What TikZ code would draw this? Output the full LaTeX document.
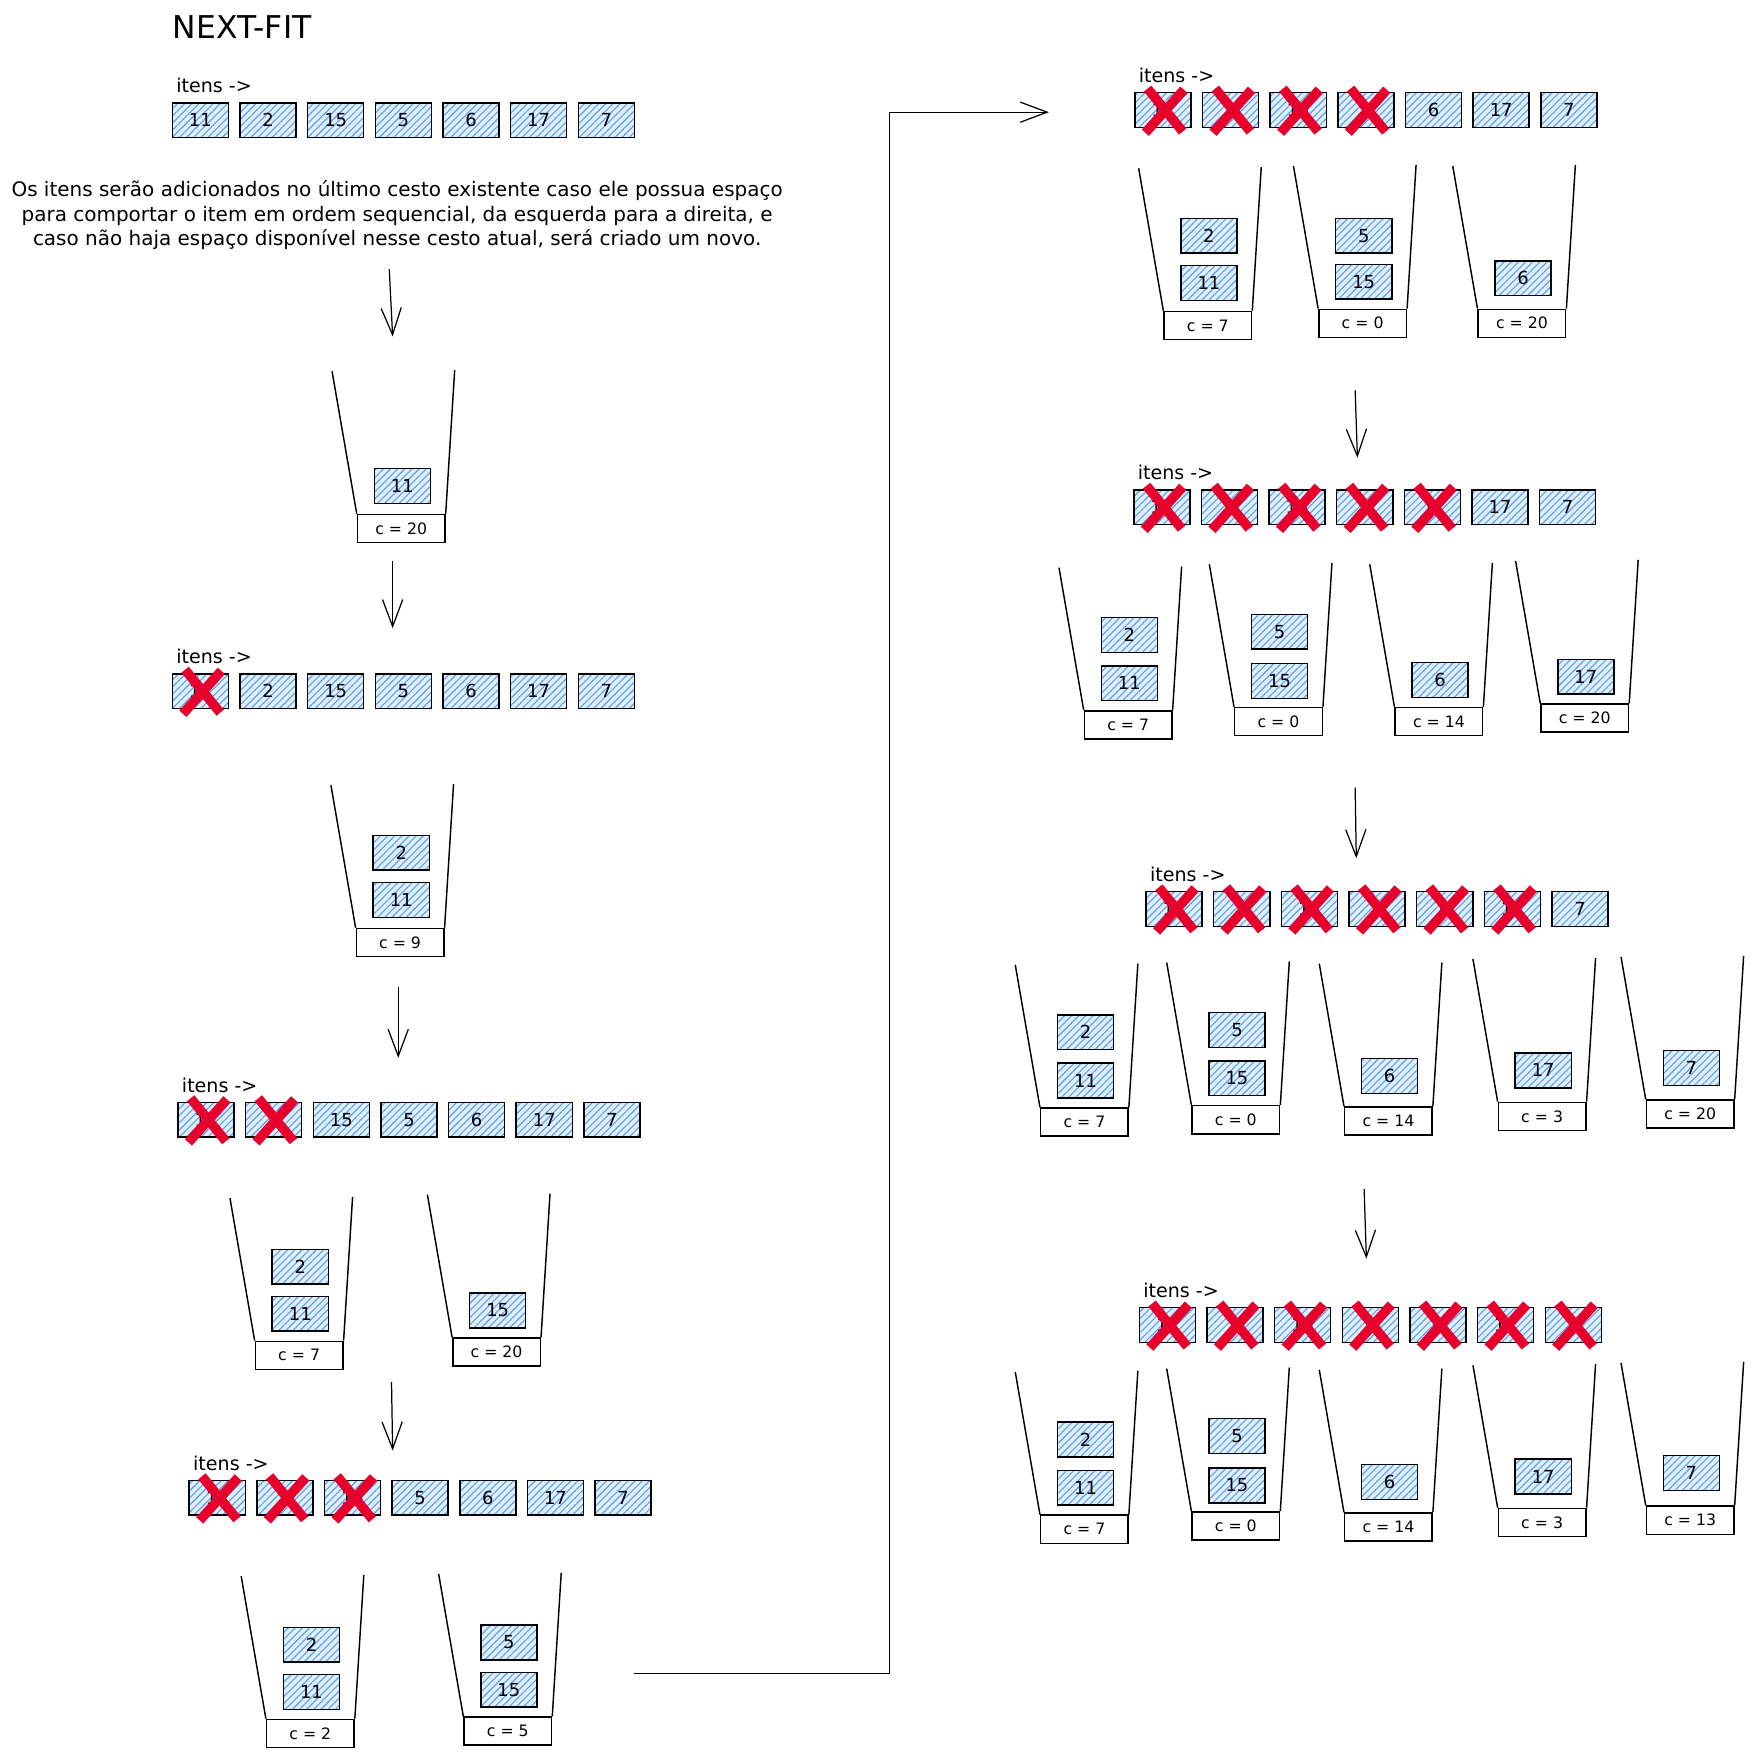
\documentclass[tikz,border=0pt]{standalone}
\usepackage{fontspec}
\setmainfont{DejaVu Sans}
\usetikzlibrary{arrows.meta,patterns.meta}

\definecolor{hatch}{RGB}{90,160,235}
\definecolor{crossred}{RGB}{232,0,45}

\tikzset{
  itembox/.style={draw, line width=1.3pt, minimum width=50pt, minimum height=31pt, inner sep=0pt,
    preaction={fill=hatch!18},
    preaction={pattern={Lines[angle=45,distance=4.5pt,line width=1pt]}, pattern color=hatch},
    font=\fontsize{16}{16}\selectfont},
  crossline/.style={crossred, line width=8.5pt},
  wall/.style={line width=1.3pt},
  basebox/.style={draw, line width=1.3pt, minimum width=78pt, minimum height=25pt, inner sep=0pt,
    font=\fontsize{14}{14}\selectfont},
  rowlabel/.style={anchor=south west, inner sep=0pt, font=\fontsize{17}{17}\selectfont},
  flow/.style={-{Straight Barb[length=24pt,width=18pt]}, line width=1.1pt},
}

% row of items: name, x, y (top of boxes), number already packed
\newcommand{\itensrow}[4]{%
  \node[rowlabel] (#1-label) at (#2+4,#3-8) {itens ->};
  \foreach \v [count=\i] in {11,2,15,5,6,17,7}{
    \node[itembox, anchor=north west] (#1-\i) at ({#2+(\i-1)*60.3},#3) {\v};
    \ifnum\i>#4 \else
      \draw[crossline] ([shift={(12,-3)}]#1-\i.north west) -- ([shift={(-8,3)}]#1-\i.south east);
      \draw[crossline] ([shift={(-7,-2)}]#1-\i.north east) -- ([shift={(10,4)}]#1-\i.south west);
    \fi
  }
}
% bin: name, x, y (top left of base), capacity left
\newcommand{\cesto}[4]{%
  \node[basebox, anchor=north west] (#1) at (#2,#3) {#4};
  \draw[wall] (#1.north west) -- ++(-22,-127);
  \draw[wall] (#1.north east) -- ++(8,-128);
}
% item inside a bin: name, bin, height above base, value
\newcommand{\cestoitem}[4]{%
  \node[itembox, anchor=north west] (#1) at ([shift={(15,-#3)}]#2.north west) {#4};
}

\begin{document}
\begin{tikzpicture}[x=1pt,y=-1pt]
\path[fill=white] (0,0) rectangle (1563,1568);

\node[anchor=west, inner sep=0pt, font=\fontsize{28}{28}\selectfont] (title) at (154,24) {NEXT-FIT};
\itensrow{p0}{153}{91}{0}
\node[align=center, font=\fontsize{17.8}{22}\selectfont] (intro) at (354,192)
  {Os itens serão adicionados no último cesto existente caso ele possua espaço\\
   para comportar o item em ordem sequencial, da esquerda para a direita, e\\
   caso não haja espaço disponível nesse cesto atual, será criado um novo.};

% left column
\coordinate (a1s) at (347,240);
\coordinate (a1e) at (350,300);
\draw[flow] (a1s) -- (a1e);

\cesto{b1}{318}{458}{c = 20}
\cestoitem{b1-11}{b1}{41}{11}

\coordinate (a2s) at (350,500);
\coordinate (a2e) at (350,560);
\draw[flow] (a2s) -- (a2e);

\itensrow{p1}{153}{600}{1}
\cesto{b2}{317}{827}{c = 9}
\cestoitem{b2-11}{b2}{41}{11}
\cestoitem{b2-2}{b2}{83}{2}

\coordinate (a3s) at (355,880);
\coordinate (a3e) at (355,943);
\draw[flow] (a3s) -- (a3e);

\itensrow{p2}{158}{982}{2}
\cesto{b3a}{227}{1195}{c = 7}
\cestoitem{b3a-11}{b3a}{40}{11}
\cestoitem{b3a-2}{b3a}{82}{2}
\cesto{b3b}{403}{1192}{c = 20}
\cestoitem{b3b-15}{b3b}{40}{15}

\coordinate (a4s) at (349,1232);
\coordinate (a4e) at (350,1293);
\draw[flow] (a4s) -- (a4e);

\itensrow{p3}{168}{1319}{3}
\cesto{b4a}{237}{1532}{c = 2}
\cestoitem{b4a-11}{b4a}{40}{11}
\cestoitem{b4a-2}{b4a}{82}{2}
\cesto{b4b}{413}{1530}{c = 5}
\cestoitem{b4b-15}{b4b}{40}{15}
\cestoitem{b4b-5}{b4b}{82}{5}

% jump to the right column
\coordinate (linkstart) at (565,1492);
\coordinate (linkend) at (935,100);
\draw[flow] (linkstart) -- (793,1492) |- (linkend);

% right column
\itensrow{r1}{1011}{82}{4}
\cesto{r1a}{1037}{277}{c = 7}
\cestoitem{r1a-11}{r1a}{41}{11}
\cestoitem{r1a-2}{r1a}{83}{2}
\cesto{r1b}{1175}{275}{c = 0}
\cestoitem{r1b-15}{r1b}{40}{15}
\cestoitem{r1b-5}{r1b}{81}{5}
\cesto{r1c}{1317}{275}{c = 20}
\cestoitem{r1c-6}{r1c}{43}{6}

\coordinate (ra1s) at (1208,348);
\coordinate (ra1e) at (1210,408);
\draw[flow] (ra1s) -- (ra1e);

\itensrow{r2}{1010}{436}{5}
\cesto{r2a}{966}{633}{c = 7}
\cestoitem{r2a-11}{r2a}{40}{11}
\cestoitem{r2a-2}{r2a}{83}{2}
\cesto{r2b}{1100}{630}{c = 0}
\cestoitem{r2b-15}{r2b}{39}{15}
\cestoitem{r2b-5}{r2b}{83}{5}
\cesto{r2c}{1243}{630}{c = 14}
\cestoitem{r2c-6}{r2c}{40}{6}
\cesto{r2d}{1373}{627}{c = 20}
\cestoitem{r2d-17}{r2d}{40}{17}

\coordinate (ra2s) at (1208,702);
\coordinate (ra2e) at (1209,765);
\draw[flow] (ra2s) -- (ra2e);

\itensrow{r3}{1021}{794}{6}
\cesto{r3a}{927}{987}{c = 7}
\cestoitem{r3a-11}{r3a}{40}{11}
\cestoitem{r3a-2}{r3a}{83}{2}
\cesto{r3b}{1062}{985}{c = 0}
\cestoitem{r3b-15}{r3b}{40}{15}
\cestoitem{r3b-5}{r3b}{83}{5}
\cesto{r3c}{1198}{986}{c = 14}
\cestoitem{r3c-6}{r3c}{43}{6}
\cesto{r3d}{1335}{982}{c = 3}
\cestoitem{r3d-17}{r3d}{44}{17}
\cesto{r3e}{1467}{980}{c = 20}
\cestoitem{r3e-7}{r3e}{44}{7}

\coordinate (ra3s) at (1216,1060);
\coordinate (ra3e) at (1218,1122);
\draw[flow] (ra3s) -- (ra3e);

\itensrow{r4}{1015}{1165}{7}
\cesto{r4a}{927}{1350}{c = 7}
\cestoitem{r4a-11}{r4a}{40}{11}
\cestoitem{r4a-2}{r4a}{83}{2}
\cesto{r4b}{1062}{1347}{c = 0}
\cestoitem{r4b-15}{r4b}{39}{15}
\cestoitem{r4b-5}{r4b}{83}{5}
\cesto{r4c}{1198}{1348}{c = 14}
\cestoitem{r4c-6}{r4c}{43}{6}
\cesto{r4d}{1335}{1344}{c = 3}
\cestoitem{r4d-17}{r4d}{44}{17}
\cesto{r4e}{1467}{1342}{c = 13}
\cestoitem{r4e-7}{r4e}{45}{7}
\end{tikzpicture}
\end{document}
